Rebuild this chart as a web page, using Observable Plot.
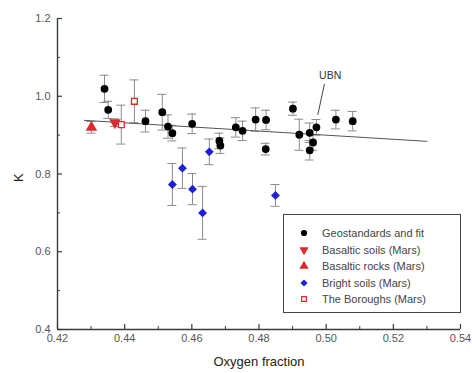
<!DOCTYPE html>
<html>
<head>
<meta charset="utf-8">
<script src="https://cdn.jsdelivr.net/npm/d3@7"></script>
<script src="https://cdn.jsdelivr.net/npm/@observablehq/plot@0.6"></script>
<style>
  body { margin: 0; background: #fff; }
  #wrap { position: relative; width: 472px; height: 373px; font-family: "Liberation Sans", Arial, sans-serif; }
  #wrap svg.plot { position: absolute; left: 0; top: 0; }
  #legend { position: absolute; left: 283px; top: 214px; width: 176px; height: 97px; border: 1.5px solid #444; background: #fff; box-sizing: content-box; }
  .row { position: absolute; left: 0; height: 16px; display: flex; align-items: center; font-size: 11px; color: #444; white-space: nowrap; }
  .row svg { width: 38px; height: 16px; }
</style>
</head>
<body>
<div id="wrap"></div>
<script>
// ---- data: [oxygen fraction, K, error] ----
const geostandards = [
  [0.4340, 1.019, 0.035],
  [0.4351, 0.965, 0.022],
  [0.4462, 0.936, 0.028],
  [0.4512, 0.959, 0.046],
  [0.4529, 0.922, 0.030],
  [0.4542, 0.905, 0.020],
  [0.4601, 0.929, 0.025],
  [0.4682, 0.885, 0.020],
  [0.4685, 0.873, 0.020],
  [0.4731, 0.920, 0.025],
  [0.4751, 0.911, 0.025],
  [0.4790, 0.940, 0.030],
  [0.4821, 0.939, 0.025],
  [0.4820, 0.864, 0.015],
  [0.4901, 0.968, 0.017],
  [0.4920, 0.901, 0.040],
  [0.4951, 0.906, 0.025],
  [0.4971, 0.920, 0.020],
  [0.4961, 0.881, 0.020],
  [0.4951, 0.861, 0.025],
  [0.5029, 0.940, 0.024],
  [0.5079, 0.936, 0.025]
];
const basalticSoils = [[0.4371, 0.932, 0.010]];
const basalticRocks = [[0.4301, 0.920, 0.015]];
const brightSoils = [
  [0.4542, 0.773, 0.054],
  [0.4572, 0.815, 0.052],
  [0.4602, 0.761, 0.040],
  [0.4632, 0.700, 0.068],
  [0.4652, 0.857, 0.033],
  [0.4849, 0.745, 0.028]
];
const boroughs = [
  [0.4390, 0.927, 0.050],
  [0.4429, 0.987, 0.055]
];
const fitX = [0.428, 0.530];
const fitK = [0.938, 0.884];
const ubnText = "UBN";
const ubnLabel = [0.5012, 1.053];
const ubnLeader = [[0.4995, 1.032], [0.4975, 0.952]];

const xDomain = [0.42, 0.54];
const yDomain = [0.4, 1.2];
const xMajor = [0.42, 0.44, 0.46, 0.48, 0.50, 0.52, 0.54];
const xMinor = [0.43, 0.45, 0.47, 0.49, 0.51, 0.53];
const yMajor = [0.4, 0.6, 0.8, 1.0, 1.2];
const yMinor = [0.5, 0.7, 0.9, 1.1];
const xLabel = "Oxygen fraction";
const yLabel = "K";

const seriesNames = ["Geostandards and fit", "Basaltic soils (Mars)", "Basaltic rocks (Mars)", "Bright soils (Mars)", "The Boroughs (Mars)"];
const seriesData = [geostandards, basalticSoils, basalticRocks, brightSoils, boroughs];
const seriesStyle = [
  {symbol: "circle", fill: "#000", stroke: "none", r: 3.9, rotate: 0},
  {symbol: "triangle", fill: "#e3262b", stroke: "none", r: 4.3, rotate: 180},
  {symbol: "triangle", fill: "#e3262b", stroke: "none", r: 4.3, rotate: 0},
  {symbol: "diamond2", fill: "#1f1fd8", stroke: "none", r: 4.0, rotate: 0},
  {symbol: "square", fill: "#fff", stroke: "#e3262b", r: 3.3, rotate: 0}
];

const rows = seriesData.flatMap((arr, s) => arr.map(([x, k, e]) => ({x, k, e, s})));
const fitLine = fitX.map((x, i) => ({x, k: fitK[i]}));

const errColor = "#8a8a8a";
const axisColor = "#3a3a3a";

const marks = [
  // error bars
  Plot.ruleX(rows, {x: "x", y1: d => d.k - d.e, y2: d => d.k + d.e, stroke: errColor, strokeWidth: 1}),
  Plot.ruleY(rows, {y: d => d.k - d.e, x1: "x", x2: "x", insetLeft: -4.5, insetRight: -4.5, stroke: errColor, strokeWidth: 1}),
  Plot.ruleY(rows, {y: d => d.k + d.e, x1: "x", x2: "x", insetLeft: -4.5, insetRight: -4.5, stroke: errColor, strokeWidth: 1}),
  // fit line
  Plot.line(fitLine, {x: "x", y: "k", stroke: "#555", strokeWidth: 1}),
  // points
  ...seriesData.map((arr, s) => Plot.dot(arr, {
    x: d => d[0], y: d => d[1],
    symbol: () => seriesStyle[s].symbol,
    r: seriesStyle[s].r, fill: seriesStyle[s].fill, stroke: seriesStyle[s].stroke,
    strokeWidth: 1.3, rotate: seriesStyle[s].rotate
  })),
  // UBN annotation
  Plot.link([ubnLeader], {x1: d => d[0][0], y1: d => d[0][1], x2: d => d[1][0], y2: d => d[1][1], stroke: "#444", strokeWidth: 1}),
  Plot.text([ubnLabel], {x: d => d[0], y: d => d[1], text: () => ubnText, fontSize: 10.5, fill: "#333"}),
  // axis lines
  Plot.ruleX([xDomain[0]], {stroke: axisColor, strokeWidth: 1.4}),
  Plot.ruleY([yDomain[0]], {stroke: axisColor, strokeWidth: 1.4}),
  // inward ticks
  Plot.ruleX(xMajor, {x: d => d, y1: () => yDomain[0], y2: () => yDomain[0], insetBottom: 5, stroke: axisColor, strokeWidth: 1.2}),
  Plot.ruleX(xMinor, {x: d => d, y1: () => yDomain[0], y2: () => yDomain[0], insetBottom: 3, stroke: axisColor, strokeWidth: 1}),
  Plot.ruleY(yMajor, {y: d => d, x1: () => xDomain[0], x2: () => xDomain[0], insetRight: -5, stroke: axisColor, strokeWidth: 1.2}),
  Plot.ruleY(yMinor, {y: d => d, x1: () => xDomain[0], x2: () => xDomain[0], insetRight: -3, stroke: axisColor, strokeWidth: 1}),
  // tick labels
  Plot.axisX(xMajor, {tickSize: 0, tickPadding: 5, tickFormat: d3.format(".2f"), fill: "#555", fontSize: 11, label: null}),
  Plot.axisY(yMajor, {tickSize: 0, tickPadding: 7, tickFormat: d3.format(".1f"), fill: "#555", fontSize: 11, label: null}),
  // axis titles
  Plot.text([xLabel], {frameAnchor: "bottom", dy: 36, text: d => d, fontSize: 13, fill: "#222"}),
  Plot.text([yLabel], {frameAnchor: "left", dx: -39, dy: 8, rotate: -90, text: d => d, fontSize: 13, fill: "#222"})
];

const chart = Plot.plot({
  width: 472, height: 373,
  marginLeft: 57, marginRight: 12, marginTop: 18, marginBottom: 44,
  x: {domain: xDomain, axis: null},
  y: {domain: yDomain, axis: null},
  style: {fontFamily: "'Liberation Sans', Arial, sans-serif", background: "#fff", overflow: "visible"},
  marks
});
chart.classList.add("plot");
const wrap = document.getElementById("wrap");
wrap.appendChild(chart);

// legend
const legend = document.createElement("div");
legend.id = "legend";
wrap.appendChild(legend);
const rowTops = [10, 26.5, 43, 59.5, 76];
const symMap = {circle: d3.symbolCircle, triangle: d3.symbolTriangle, diamond2: d3.symbolDiamond2, square: d3.symbolSquare};
seriesNames.forEach((name, s) => {
  const row = document.createElement("div");
  row.className = "row";
  row.style.top = rowTops[s] + "px";
  const st = seriesStyle[s];
  const rr = st.r * 0.8;
  const path = d3.symbol(symMap[st.symbol], Math.PI * rr * rr)();
  const svg = d3.create("svg").attr("width", 38).attr("height", 16);
  svg.append("path").attr("d", path)
    .attr("transform", `translate(20,8) rotate(${st.rotate})`)
    .attr("fill", st.fill).attr("stroke", st.stroke).attr("stroke-width", 1.2);
  row.appendChild(svg.node());
  const span = document.createElement("span");
  span.textContent = name;
  row.appendChild(span);
  legend.appendChild(row);
});
</script>
</body>
</html>
